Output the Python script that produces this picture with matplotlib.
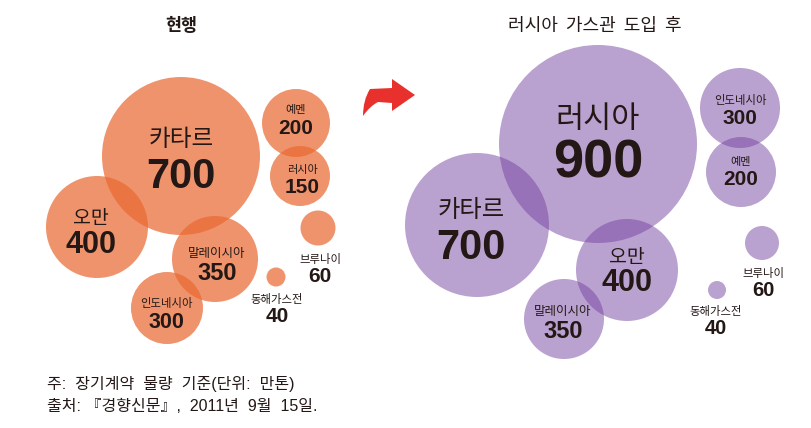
import matplotlib
matplotlib.use("Agg")
import matplotlib.pyplot as plt
from matplotlib.patches import Circle, PathPatch
from matplotlib.path import Path

plt.rcParams['font.family'] = ['Noto Sans CJK KR', 'DejaVu Sans']
num_family = ['Liberation Sans', 'Noto Sans CJK KR']

# data: long-term contract volume (unit: 10k tons)
left_names = ["카타르", "오만", "말레이시아", "인도네시아", "예멘", "러시아", "브루나이", "동해가스전"]
left_values = [700, 400, 350, 300, 200, 150, 60, 40]
right_names = ["러시아", "카타르", "오만", "말레이시아", "인도네시아", "예멘", "브루나이", "동해가스전"]
right_values = [900, 700, 400, 350, 300, 200, 60, 40]

# layout (pixel space of the figure): bubble centre, radius, label centre, font sizes
left_cx = [181, 97, 215, 167, 296, 300, 318, 276]
left_cy = [156, 227, 259, 308, 123, 176, 228, 277]
left_r = [79, 51, 43, 36, 34, 30, 17.5, 9.5]
left_lx = [181, 91, 217, 166, 296, 302, 320, 277]
left_ly = [140, 218, 253, 303, 110, 170, 260, 300]
left_gap = [37, 27, 21, 19, 18, 17, 17, 17]
left_fs_name = [17, 14, 9, 8.2, 8, 8, 8.2, 8.2]
left_fs_val = [30, 22, 17, 15.5, 15, 15, 15, 15]

right_cx = [598, 477, 627, 564, 740, 741, 762, 717]
right_cy = [144, 225, 270, 319, 108, 172, 243, 290]
right_r = [99, 72, 51, 40, 40, 35, 17, 9]
right_lx = [598, 471, 627, 563, 740, 741, 763, 716]
right_ly = [119, 210, 257, 311, 100, 162, 273, 312]
right_gap = [44, 38, 26, 20, 18, 17, 17, 17]
right_fs_name = [22, 17.5, 14, 9, 8.2, 8, 8.2, 8.2]
right_fs_val = [39, 30, 22, 17, 15, 15, 14.5, 14.5]

orange = (0.918, 0.416, 0.2)
purple = (0.455, 0.255, 0.624)
text_c = '#231815'

fig = plt.figure(figsize=(8.11, 4.28), dpi=100)
ax = fig.add_axes([0, 0, 1, 1])
ax.set_xlim(0, 811)
ax.set_ylim(428, 0)
ax.axis('off')


def draw_bubbles(names, values, cx, cy, r, lx, ly, gap, fs_n, fs_v, color, alpha):
    for i in range(len(names)):
        ax.add_patch(Circle((cx[i], cy[i]), r[i], facecolor=color, alpha=alpha,
                            edgecolor='none', zorder=1))
        ax.text(lx[i], ly[i], names[i], fontsize=fs_n[i], ha='center', va='center',
                color=text_c, zorder=3)
        ax.text(lx[i], ly[i] + gap[i], str(values[i]), fontsize=fs_v[i], ha='center',
                va='center', color=text_c, fontweight='bold', family=num_family, zorder=3)


draw_bubbles(left_names, left_values, left_cx, left_cy, left_r, left_lx, left_ly,
             left_gap, left_fs_name, left_fs_val, orange, 0.72)
draw_bubbles(right_names, right_values, right_cx, right_cy, right_r, right_lx, right_ly,
             right_gap, right_fs_name, right_fs_val, purple, 0.49)

ax.text(181, 26, "현행", fontsize=12.5, fontweight='bold', ha='center', va='center', color=text_c)
ax.text(595, 26, "러시아  가스관  도입  후", fontsize=13, ha='center', va='center', color=text_c)

# curved red arrow between the two panels
verts = [(363, 116), (363, 100), (370, 89), (392, 88),
         (392, 79), (415, 95), (392, 111), (392, 103),
         (378, 102), (370, 106), (363, 116)]
codes = [Path.MOVETO, Path.CURVE3, Path.CURVE3, Path.LINETO,
         Path.LINETO, Path.LINETO, Path.LINETO, Path.LINETO,
         Path.LINETO, Path.CURVE3, Path.CURVE3]
ax.add_patch(PathPatch(Path(verts, codes), facecolor='#e8312c', edgecolor='none', zorder=2))

note_family = ['Liberation Sans', 'Noto Sans CJK KR']
ax.text(47, 384, "주:  장기계약  물량  기준(단위:  만톤)", fontsize=11.5, ha='left', va='center',
        color=text_c, family=note_family)
ax.text(47, 406, "출처: 『경향신문』,  2011년  9월  15일.", fontsize=11.5, ha='left', va='center',
        color=text_c, family=note_family)

fig.savefig("out.png", dpi=100)
